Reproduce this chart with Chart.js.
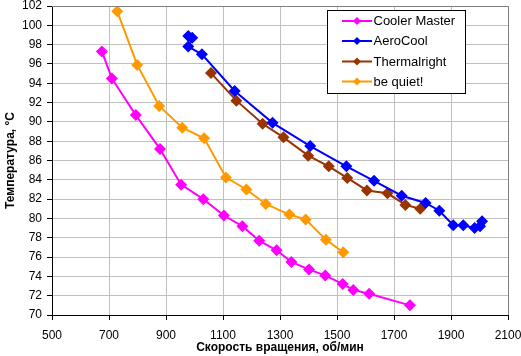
<!DOCTYPE html>
<html>
<head>
<meta charset="utf-8">
<script src="https://cdn.jsdelivr.net/npm/chart.js@4/dist/chart.umd.min.js"></script>
<style>
html,body{margin:0;padding:0;background:#fff;}
canvas{display:block;}
</style>
</head>
<body>
<canvas id="c" width="521" height="356"></canvas>
<script>
const seriesNames = ['Cooler Master', 'AeroCool', 'Thermalright', 'be quiet!'];
const seriesColors = ['#FF00FF', '#0000FF', '#993300', '#FF9900'];

const coolerX = [675, 710, 794, 879, 953, 1031, 1103, 1168, 1227, 1288, 1340, 1402, 1459, 1520, 1557, 1613, 1756];
const coolerY = [97.3, 94.5, 90.7, 87.2, 83.5, 82.0, 80.3, 79.2, 77.7, 76.7, 75.5, 74.7, 74.1, 73.2, 72.6, 72.2, 71.0];

const aeroX = [978, 992, 978, 1026, 1141, 1274, 1406, 1533, 1630, 1727, 1811, 1859, 1908, 1943, 1983, 2002, 2009];
const aeroY = [98.9, 98.7, 97.8, 97.0, 93.2, 89.9, 87.5, 85.4, 83.9, 82.35, 81.6, 80.8, 79.3, 79.3, 79.0, 79.2, 79.7];

const thermX = [1058, 1147, 1239, 1312, 1399, 1471, 1536, 1605, 1677, 1740, 1792];
const thermY = [95.05, 92.2, 89.8, 88.4, 86.5, 85.4, 84.2, 82.9, 82.6, 81.4, 81.0];

const quietX = [729, 799, 876, 957, 1034, 1110, 1182, 1250, 1333, 1390, 1461, 1522];
const quietY = [101.45, 95.9, 91.65, 89.4, 88.3, 84.25, 83.0, 81.5, 80.4, 79.9, 77.8, 76.5];

const xMin = 500, xMax = 2100, xStep = 200;
const yMin = 70, yMax = 102, yStep = 2;
const xTitle = 'Скорость вращения, об/мин';
const yTitle = 'Температура, °C';

const allX = [coolerX, aeroX, thermX, quietX];
const allY = [coolerY, aeroY, thermY, quietY];

const FONT = 'Liberation Sans, Arial, sans-serif';

const datasets = seriesNames.map((name, i) => ({
  label: name,
  data: allX[i].map((x, j) => ({x: x, y: allY[i][j]})),
  showLine: true,
  borderColor: seriesColors[i],
  backgroundColor: seriesColors[i],
  borderWidth: 2,
  pointStyle: 'rectRot',
  pointRadius: 6,
  pointBorderWidth: 0,
  pointBackgroundColor: seriesColors[i],
  tension: 0
}));

const frameAndLegend = {
  id: 'frameAndLegend',
  afterDraw(chart) {
    const ctx = chart.ctx;
    const a = chart.chartArea;
    ctx.save();
    ctx.strokeStyle = '#808080';
    ctx.lineWidth = 1;
    ctx.beginPath();
    ctx.moveTo(a.left, a.top + 0.5);
    ctx.lineTo(a.right + 0.5, a.top + 0.5);
    ctx.lineTo(a.right + 0.5, a.bottom);
    ctx.stroke();
    const bx = 327.5, by = 10.5, bw = 138, bh = 83;
    ctx.fillStyle = '#fff';
    ctx.fillRect(bx, by, bw, bh);
    ctx.strokeStyle = '#000';
    ctx.strokeRect(bx, by, bw, bh);
    const rows = [21, 41, 61.5, 81.5];
    ctx.font = '13px ' + FONT;
    ctx.textBaseline = 'middle';
    ctx.textAlign = 'left';
    chart.data.datasets.forEach((ds, i) => {
      const y = rows[i];
      ctx.strokeStyle = ds.borderColor;
      ctx.lineWidth = 2;
      ctx.beginPath();
      ctx.moveTo(342, y);
      ctx.lineTo(372, y);
      ctx.stroke();
      ctx.fillStyle = ds.borderColor;
      ctx.beginPath();
      const r = 4;
      ctx.moveTo(357, y - r);
      ctx.lineTo(357 + r, y);
      ctx.lineTo(357, y + r);
      ctx.lineTo(357 - r, y);
      ctx.closePath();
      ctx.fill();
      ctx.fillStyle = '#000';
      ctx.fillText(ds.label, 373.5, y + 0.5);
    });
    ctx.restore();
  }
};

new Chart(document.getElementById('c'), {
  type: 'scatter',
  data: { datasets: datasets },
  options: {
    responsive: false,
    animation: false,
    devicePixelRatio: 1,
    layout: { padding: { top: 5, right: 13, left: 0, bottom: 0 } },
    plugins: { legend: { display: false }, tooltip: { enabled: false } },
    scales: {
      x: {
        type: 'linear',
        min: xMin, max: xMax,
        afterFit(s) { s.height = 41; s.paddingLeft = 0; s.paddingRight = 0; },
        ticks: { stepSize: xStep, color: '#000', font: { family: FONT, size: 12 }, padding: 8, maxRotation: 0, callback: v => String(v) },
        grid: { color: '#C0C0C0', tickColor: '#000', tickLength: 5, lineWidth: 1 },
        border: { color: '#000', width: 1 },
        title: { display: true, text: xTitle, color: '#000', font: { family: FONT, size: 12, weight: 'bold' }, padding: { top: 0, bottom: 1 } }
      },
      y: {
        type: 'linear',
        min: yMin, max: yMax,
        afterFit(s) { s.width = 52; s.paddingTop = 0; s.paddingBottom = 0; },
        ticks: { stepSize: yStep, color: '#000', font: { family: FONT, size: 12 }, padding: 5, callback: v => String(v) },
        grid: { color: '#C0C0C0', tickColor: '#000', tickLength: 5, lineWidth: 1 },
        border: { color: '#000', width: 1 },
        title: { display: true, text: yTitle, color: '#000', font: { family: FONT, size: 12, weight: 'bold' }, padding: { top: 3, bottom: 0 } }
      }
    }
  },
  plugins: [frameAndLegend]
});
</script>
</body>
</html>
